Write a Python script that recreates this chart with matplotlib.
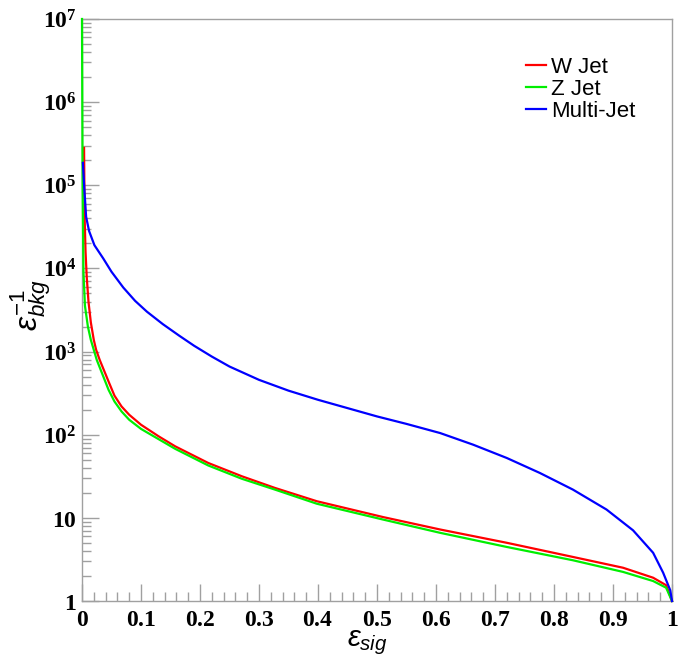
import numpy as np
import matplotlib.pyplot as plt
from matplotlib.ticker import FixedLocator, LogLocator, FuncFormatter, NullFormatter

plt.rcParams['mathtext.fontset'] = 'custom'
plt.rcParams['mathtext.rm'] = 'Liberation Sans'
plt.rcParams['mathtext.it'] = 'Liberation Sans:italic'
plt.rcParams['mathtext.bf'] = 'Liberation Serif:bold'

# background rejection (1/eff_bkg) vs signal efficiency, stored as log10
w_eff = [0.0035, 0.0045, 0.006, 0.008, 0.011, 0.015, 0.02, 0.024, 0.03, 0.045,
         0.055, 0.067, 0.08, 0.1, 0.13, 0.158, 0.214, 0.271, 0.327, 0.398,
         0.51, 0.607, 0.72, 0.832, 0.917, 0.968, 0.99, 1.0]
w_log = [5.45, 4.6, 4.2, 3.9, 3.6, 3.35, 3.14, 3.02, 2.90, 2.64,
         2.47, 2.34, 2.24, 2.12, 1.98, 1.86, 1.66, 1.50, 1.36, 1.20,
         1.01, 0.86, 0.70, 0.53, 0.40, 0.28, 0.19, 0.0]

z_eff = [0.0, 0.001, 0.0025, 0.005, 0.01, 0.015, 0.02, 0.025, 0.03, 0.045,
         0.055, 0.067, 0.08, 0.1, 0.158, 0.214, 0.271, 0.327, 0.398, 0.51,
         0.607, 0.72, 0.832, 0.917, 0.968, 0.99, 1.0]
z_log = [7.0, 5.0, 3.95, 3.55, 3.30, 3.14, 3.02, 2.90, 2.81, 2.54,
         2.40, 2.28, 2.18, 2.07, 1.83, 1.63, 1.47, 1.34, 1.17, 0.98,
         0.82, 0.65, 0.49, 0.35, 0.24, 0.16, 0.0]

qcd_eff = [0.0015, 0.004, 0.007, 0.012, 0.021, 0.036, 0.05, 0.07, 0.09, 0.11,
           0.137, 0.165, 0.19, 0.22, 0.25, 0.3, 0.35, 0.4, 0.45, 0.5,
           0.55, 0.607, 0.663, 0.72, 0.776, 0.832, 0.889, 0.934, 0.968, 0.985,
           0.997, 1.0]
qcd_log = [5.27, 4.95, 4.62, 4.45, 4.28, 4.12, 3.96, 3.77, 3.61, 3.48,
           3.33, 3.19, 3.07, 2.94, 2.82, 2.66, 2.53, 2.42, 2.32, 2.22,
           2.13, 2.02, 1.88, 1.72, 1.54, 1.34, 1.10, 0.85, 0.58, 0.34,
           0.13, 0.0]

x_ticks = [0, 0.1, 0.2, 0.3, 0.4, 0.5, 0.6, 0.7, 0.8, 0.9, 1]
x_labels = ['0', '0.1', '0.2', '0.3', '0.4', '0.5', '0.6', '0.7', '0.8', '0.9', '1']

fig = plt.figure(figsize=(6.79, 6.62), dpi=100)
ax = fig.add_axes([82/679, 1-601/662, 590/679, 582/662])

ax.plot(w_eff, 10**np.array(w_log), color='#ff0000', lw=1.6, label='W Jet',
        zorder=3, clip_on=False)
ax.plot(z_eff, 10**np.array(z_log), color='#00ee00', lw=1.6, label='Z Jet',
        zorder=3, clip_on=False)
ax.plot(qcd_eff, 10**np.array(qcd_log), color='#0000ff', lw=1.6, label='Multi-Jet',
        zorder=3, clip_on=False)

ax.set_yscale('log')
ax.set_xlim(0, 1)
ax.set_ylim(1, 1e7)

ax.xaxis.set_major_locator(FixedLocator(x_ticks))
ax.xaxis.set_minor_locator(FixedLocator(np.arange(0, 1.001, 0.02)))
ax.set_xticklabels([r'$\mathbf{%s}$' % s for s in x_labels])

def ylab(v, pos):
    e = int(round(np.log10(v)))
    if e == 0:
        return r'$\mathbf{1}$'
    if e == 1:
        return r'$\mathbf{10}$'
    return r'$\mathbf{10^{%d}}$' % e

ax.yaxis.set_major_locator(LogLocator(base=10, numticks=20))
ax.yaxis.set_minor_locator(LogLocator(base=10, subs=np.arange(2, 10), numticks=20))
ax.yaxis.set_major_formatter(FuncFormatter(ylab))
ax.yaxis.set_minor_formatter(NullFormatter())

ax.tick_params(which='both', direction='in', color='#a0a0a0', width=1,
               labelsize=17, top=False, right=False)
ax.tick_params(which='major', length=12.5, pad=4)
ax.tick_params(which='minor', length=6.5)
for s in ax.spines.values():
    s.set_color('#a0a0a0')
    s.set_linewidth(1)

# axis titles placed in figure pixels
fig.text(367/679, 1-643/662, r'$\varepsilon_{sig}$', fontsize=21,
         ha='center', va='center')
fig.text(31/679, 1-305/662, r'$\varepsilon^{\mathit{-1}}_{bkg}$', fontsize=23,
         ha='center', va='center', rotation=90)

leg = ax.legend(loc='upper left', bbox_to_anchor=(0.752, 0.935), frameon=False,
                prop={'family': 'Liberation Sans', 'size': 16},
                handlelength=0.9, handletextpad=0.25, labelspacing=0.05,
                borderaxespad=0, borderpad=0)

fig.savefig('out.png', dpi=100)
